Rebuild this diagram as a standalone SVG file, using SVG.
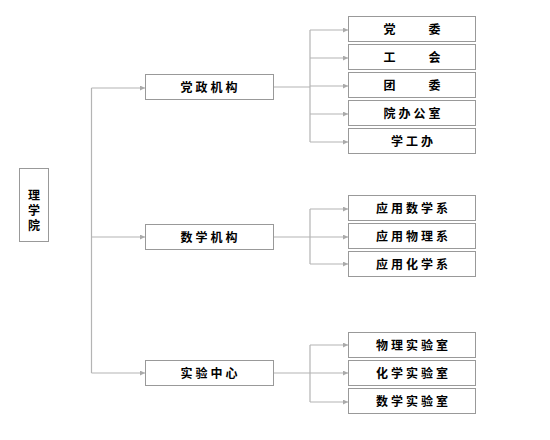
<svg xmlns="http://www.w3.org/2000/svg" width="550" height="440" viewBox="0 0 550 440">
<defs>
<style>
.box{fill:#fff;stroke:#999;stroke-width:1}
.t{font-family:"Noto Sans CJK SC","Noto Sans CJK TC",sans-serif;font-size:12px;font-weight:bold;fill:#000;text-anchor:middle;letter-spacing:3px}
.rt{font-family:"Noto Sans CJK SC",sans-serif;font-size:12px;font-weight:bold;fill:#000;text-anchor:middle;writing-mode:vertical-rl;letter-spacing:3px}
.ln{fill:none;stroke:#b4b4b4;stroke-width:1.2}
.ar{fill:none;stroke:#b4b4b4;stroke-width:1.2;marker-end:url(#ah)}
</style>
<marker id="ah" viewBox="0 0 6 6" refX="6" refY="3" markerWidth="5" markerHeight="5" markerUnits="userSpaceOnUse" orient="auto">
<path d="M0,0 L6,3 L0,6 z" fill="#aaa"/>
</marker>
</defs>
<rect width="550" height="440" fill="#fff"/>
<g id="connectors">
<path class="ln" d="M91.5,88 V373"/>
<path class="ar" d="M91.5,88 H145"/>
<path class="ar" d="M91.5,237 H145"/>
<path class="ar" d="M91.5,373 H145"/>
<path class="ln" d="M273,87 H310 M310,30 V142"/>
<path class="ar" d="M310,30 H348"/>
<path class="ar" d="M310,58 H348"/>
<path class="ar" d="M310,86 H348"/>
<path class="ar" d="M310,114 H348"/>
<path class="ar" d="M310,142 H348"/>
<path class="ln" d="M273,237 H310 M310,209 V264"/>
<path class="ar" d="M310,209 H348"/>
<path class="ar" d="M310,237 H348"/>
<path class="ar" d="M310,264 H348"/>
<path class="ln" d="M273,373 H310 M310,345 V402"/>
<path class="ar" d="M310,345 H348"/>
<path class="ar" d="M310,373 H348"/>
<path class="ar" d="M310,402 H348"/>
</g>
<g id="root"><rect class="box" x="19.5" y="168.5" width="29" height="73"/>
<text class="rt" x="34" y="211.5">理学院</text></g>
<g id="dangzheng"><rect class="box" x="145.5" y="74.5" width="128" height="25"/><text class="t" x="210.5" y="91.5">党政机构</text></g>
<g id="shuxue"><rect class="box" x="145.5" y="224.5" width="128" height="25"/><text class="t" x="210.5" y="241.5">数学机构</text></g>
<g id="shiyan"><rect class="box" x="145.5" y="360.5" width="128" height="25"/><text class="t" x="210.5" y="377.5">实验中心</text></g>
<g id="dangwei"><rect class="box" x="348.5" y="16.5" width="127" height="25"/><text class="t" x="413.5" y="33.5">党　　委</text></g>
<g id="gonghui"><rect class="box" x="348.5" y="44.5" width="127" height="25"/><text class="t" x="413.5" y="61.5">工　　会</text></g>
<g id="tuanwei"><rect class="box" x="348.5" y="72.5" width="127" height="25"/><text class="t" x="413.5" y="89.5">团　　委</text></g>
<g id="yuanban"><rect class="box" x="348.5" y="100.5" width="127" height="25"/><text class="t" x="413.5" y="117.5">院办公室</text></g>
<g id="xuegong"><rect class="box" x="348.5" y="128.5" width="127" height="25"/><text class="t" x="413.5" y="145.5">学工办</text></g>
<g id="yysx"><rect class="box" x="348.5" y="195.5" width="127" height="25"/><text class="t" x="413.5" y="212.5">应用数学系</text></g>
<g id="yywl"><rect class="box" x="348.5" y="223.5" width="127" height="25"/><text class="t" x="413.5" y="240.5">应用物理系</text></g>
<g id="yyhx"><rect class="box" x="348.5" y="251.5" width="127" height="25"/><text class="t" x="413.5" y="268.5">应用化学系</text></g>
<g id="wlsys"><rect class="box" x="348.5" y="332.5" width="127" height="25"/><text class="t" x="413.5" y="349.5">物理实验室</text></g>
<g id="hxsys"><rect class="box" x="348.5" y="360.5" width="127" height="25"/><text class="t" x="413.5" y="377.5">化学实验室</text></g>
<g id="sxsys"><rect class="box" x="348.5" y="388.5" width="127" height="25"/><text class="t" x="413.5" y="405.5">数学实验室</text></g>
</svg>
